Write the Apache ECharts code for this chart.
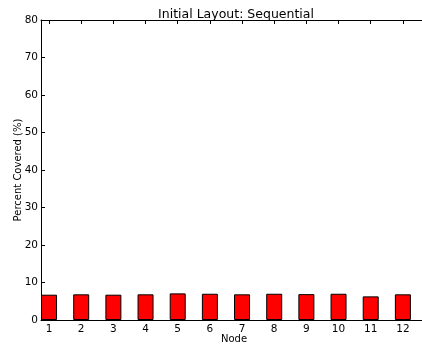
<!DOCTYPE html>
<html>
<head>
<meta charset="utf-8">
<script src="https://cdn.jsdelivr.net/npm/echarts@6/dist/echarts.min.js"></script>
<style>html,body{margin:0;padding:0;background:#fff;overflow:hidden;}#c{width:422px;height:349px;}</style>
</head>
<body>
<div id="c"></div>
<script>
const nodes = [1, 2, 3, 4, 5, 6, 7, 8, 9, 10, 11, 12];
const covered = [6.75, 6.85, 6.75, 6.85, 7.1, 7.0, 6.85, 7.0, 6.9, 7.0, 6.3, 6.85];
const yTicks = [0, 10, 20, 30, 40, 50, 60, 70, 80];

const font = 'DejaVu Sans';
const chart = echarts.init(document.getElementById('c'), null, {renderer: 'canvas'});
const xCommon = {
  type: 'value', min: 0.75, max: 12.75,
  splitLine: {show: false},
  axisLine: {show: true, onZero: false, lineStyle: {color: '#000', width: 1}},
  axisTick: {show: true, inside: true, length: 4, customValues: nodes, lineStyle: {color: '#000'}}
};
chart.setOption({
  animation: false,
  title: {
    text: 'Initial Layout: Sequential', left: 231, top: 3, textAlign: 'center',
    textStyle: {fontFamily: font, fontSize: 12.5, fontWeight: 'normal', color: '#000'}
  },
  grid: {left: 41, top: 20, right: -5, height: 300, containLabel: false, outerBoundsMode: 'none'},
  xAxis: [
    Object.assign({}, xCommon, {
      position: 'bottom', name: 'Node', nameLocation: 'middle', nameGap: 14, nameMoveOverlap: false,
      nameTextStyle: {fontFamily: font, fontSize: 10, color: '#000'},
      axisLabel: {show: true, customValues: nodes, margin: 4, fontFamily: font, fontSize: 10.5, color: '#000'}
    }),
    Object.assign({}, xCommon, {position: 'top', axisLabel: {show: false}})
  ],
  yAxis: {
    type: 'value', min: 0, max: 80, interval: 10,
    name: 'Percent Covered (%)', nameLocation: 'middle', nameGap: 18, nameMoveOverlap: false,
    nameTextStyle: {fontFamily: font, fontSize: 10, color: '#000'},
    splitLine: {show: false},
    axisLine: {show: true, onZero: false, lineStyle: {color: '#000', width: 1}},
    axisTick: {show: true, inside: true, length: 4, lineStyle: {color: '#000'}},
    axisLabel: {margin: 3, fontFamily: font, fontSize: 10.5, color: '#000',
      formatter: v => yTicks.includes(v) ? String(v) : ''}
  },
  series: [{
    type: 'bar', xAxisIndex: 0,
    data: nodes.map((n, i) => [n, covered[i]]),
    barWidth: 16,
    itemStyle: {color: '#ff0000', borderColor: '#000', borderWidth: 1},
    z: 1
  }]
});
</script>
</body>
</html>
